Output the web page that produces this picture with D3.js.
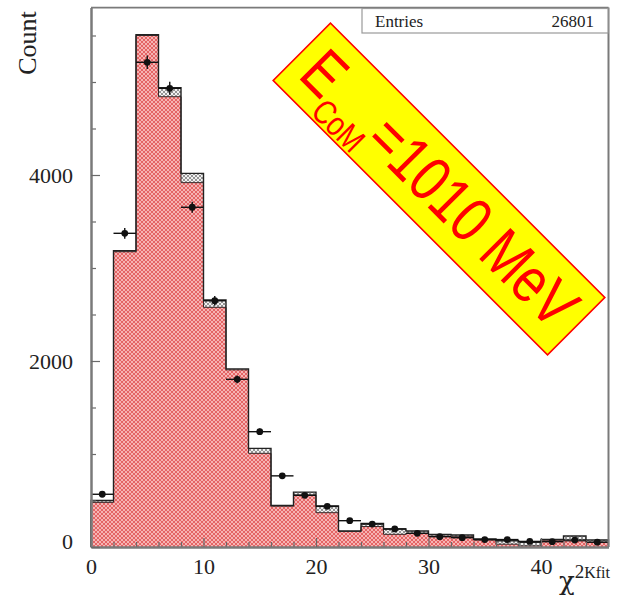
<!DOCTYPE html>
<html>
<head>
<meta charset="utf-8">
<script src="https://cdn.jsdelivr.net/npm/d3@7"></script>
<style>
  html, body { margin: 0; padding: 0; background: #fff; }
  svg { display: block; }
</style>
</head>
<body>
<svg id="chart" width="620" height="602"></svg>
<script>
// χ² of the kinematic fit, 2-unit bins from 0 to 46
const binEdges = [0, 2, 4, 6, 8, 10, 12, 14, 16, 18, 20, 22, 24, 26, 28, 30, 32, 34, 36, 38, 40, 42, 44, 46];

// Simulated signal (red hatched) counts per bin
const signalCounts = [480, 3175, 5500, 4842, 3918, 2577, 1905, 1007, 440, 559, 369, 168, 220, 136, 147, 118, 111, 75, 30, 12, 72, 65, 50];

// Simulated background stacked on top of the signal (grey hatched)
const backgroundCounts = [20, 10, 8, 97, 100, 79, 10, 54, 6, 31, 72, 4, 34, 58, 25, 18, 18, 11, 38, 38, 10, 53, 25];

// Measured data points and their statistical errors
const dataCounts = [567, 3373, 5212, 4932, 3653, 2648, 1803, 1240, 765, 556, 437, 283, 246, 194, 147, 111, 100, 80, 80, 60, 57, 75, 52];
const dataErrors = [24, 58, 72, 70, 60, 51, 42, 35, 28, 24, 21, 17, 16, 14, 12, 11, 10, 9, 9, 8, 8, 9, 7];

// Axis ticks
const xMajorTicks = [0, 10, 20, 30, 40];
const xMinorTicks = [2, 4, 6, 8, 12, 14, 16, 18, 22, 24, 26, 28, 32, 34, 36, 38, 42, 44];
const yMajorTicks = [0, 2000, 4000];
const yMinorTicks = [500, 1000, 1500, 2500, 3000, 3500, 4500, 5000, 5500];

const entriesLabel = "Entries";
const entriesValue = "26801";

const svg = d3.select("#chart");

const x = d3.scaleLinear().domain([0, 46]).range([91, 608.5]);
const y = d3.scaleLinear().domain([0, 5800]).range([547, 7.6]);

// Hatch patterns
const defs = svg.append("defs");
const red = defs.append("pattern")
  .attr("id", "redHatch").attr("patternUnits", "userSpaceOnUse")
  .attr("width", 4).attr("height", 4);
red.append("rect").attr("width", 4).attr("height", 4).attr("fill", "#f6b4b4");
red.append("path").attr("d", "M0,4 L4,0 M-1,1 L1,-1 M3,5 L5,3")
  .attr("stroke", "#e25c5c").attr("stroke-width", 0.9);
red.append("path").attr("d", "M0,0 L4,4 M-1,3 L1,5 M3,-1 L5,1")
  .attr("stroke", "#e25c5c").attr("stroke-width", 0.9);

const grey = defs.append("pattern")
  .attr("id", "greyHatch").attr("patternUnits", "userSpaceOnUse")
  .attr("width", 4).attr("height", 4);
grey.append("rect").attr("width", 4).attr("height", 4).attr("fill", "#f2f2f2");
grey.append("path").attr("d", "M0,4 L4,0 M0,0 L4,4")
  .attr("stroke", "#8a8a8a").attr("stroke-width", 0.9);

const bins = signalCounts.map((s, i) => ({
  lo: binEdges[i], hi: binEdges[i + 1],
  sig: s, tot: s + backgroundCounts[i],
  data: dataCounts[i], err: dataErrors[i]
}));

const plot = svg.append("g");

// Step outline of a stacked layer, as a path over all bins
function stepLine(key) {
  const p = d3.path();
  p.moveTo(x(bins[0].lo), y(0));
  bins.forEach(d => { p.lineTo(x(d.lo), y(d[key])); p.lineTo(x(d.hi), y(d[key])); });
  p.lineTo(x(bins[bins.length - 1].hi), y(0));
  return p.toString();
}

// Background layer: one closed band between signal and total tops
function bandPath() {
  const p = d3.path();
  bins.forEach(d => {
    if (d.tot <= d.sig) return;
    p.rect(x(d.lo), y(d.tot), x(d.hi) - x(d.lo), y(d.sig) - y(d.tot));
  });
  return p.toString();
}
plot.append("path").attr("d", bandPath()).attr("fill", "url(#greyHatch)");

// Signal layer drawn as a single filled step area
plot.append("path").attr("d", stepLine("sig") + "Z").attr("fill", "url(#redHatch)");

plot.append("path").attr("d", stepLine("sig"))
  .attr("fill", "none").attr("stroke", "#3a2a2a").attr("stroke-width", 1);
plot.append("path").attr("d", stepLine("tot"))
  .attr("fill", "none").attr("stroke", "#222").attr("stroke-width", 1.4);

// Data points with error bars
const pts = plot.selectAll("g.pt").data(bins).join("g").attr("class", "pt");
pts.append("line")
  .attr("x1", d => x(d.lo)).attr("x2", d => x(d.hi))
  .attr("y1", d => y(d.data)).attr("y2", d => y(d.data))
  .attr("stroke", "#111").attr("stroke-width", 1.4);
pts.append("line")
  .attr("x1", d => x((d.lo + d.hi) / 2)).attr("x2", d => x((d.lo + d.hi) / 2))
  .attr("y1", d => y(d.data - d.err)).attr("y2", d => y(d.data + d.err))
  .attr("stroke", "#111").attr("stroke-width", 1.4);
pts.append("circle")
  .attr("cx", d => x((d.lo + d.hi) / 2)).attr("cy", d => y(d.data))
  .attr("r", 3.4).attr("fill", "#111");

// Frame
const frame = svg.append("g").attr("stroke", "#7a7a7a").attr("fill", "none");
frame.append("line").attr("x1", x(0)).attr("x2", x(46)).attr("y1", y(5800)).attr("y2", y(5800)).attr("stroke-width", 1.6);
frame.append("line").attr("x1", x(46)).attr("x2", x(46)).attr("y1", y(5800)).attr("y2", y(0)).attr("stroke-width", 2);

// Axes
function styleAxis(g) {
  g.selectAll(".domain").attr("stroke", "#7a7a7a").attr("stroke-width", 2);
  g.selectAll(".tick line").attr("stroke", "#6a6a6a").attr("stroke-width", 1.2);
  g.selectAll(".tick text")
    .attr("fill", "#222")
    .style("font-family", "'Liberation Serif', 'DejaVu Serif', serif")
    .style("font-size", "22px");
}

svg.append("g").attr("transform", `translate(0,${y(0)})`)
  .call(d3.axisBottom(x).tickValues(xMinorTicks).tickSize(-5).tickSizeOuter(0).tickFormat(""))
  .call(styleAxis);
svg.append("g").attr("transform", `translate(0,${y(0)})`)
  .call(d3.axisBottom(x).tickValues(xMajorTicks).tickSize(-9).tickSizeOuter(0).tickPadding(11).tickFormat(d3.format("d")))
  .call(styleAxis);

svg.append("g").attr("transform", `translate(${x(0)},0)`)
  .call(d3.axisLeft(y).tickValues(yMinorTicks).tickSize(-5).tickSizeOuter(0).tickFormat(""))
  .call(styleAxis);
const yAx = svg.append("g").attr("transform", `translate(${x(0)},0)`)
  .call(d3.axisLeft(y).tickValues(yMajorTicks).tickSize(-9).tickSizeOuter(0).tickPadding(18).tickFormat(d3.format("d")))
  .call(styleAxis);
yAx.selectAll(".tick text").filter(d => d === 0).attr("dy", "0.05em");

// Axis titles
svg.append("text")
  .attr("transform", "translate(36,43) rotate(-90)")
  .attr("text-anchor", "middle")
  .attr("fill", "#222")
  .style("font-family", "'Liberation Serif', 'DejaVu Serif', serif")
  .style("font-size", "26px")
  .text("Count");

const xt = svg.append("text")
  .attr("x", 610).attr("y", 590)
  .attr("text-anchor", "end")
  .attr("fill", "#222")
  .style("font-family", "'DejaVu Serif', 'Liberation Serif', serif");
xt.append("tspan").style("font-size", "26px").text("χ");
xt.append("tspan").style("font-family", "'Liberation Serif', serif").style("font-size", "19px").attr("dy", -12).text("2");
xt.append("tspan").style("font-family", "'Liberation Serif', serif").style("font-size", "16px").text("Kfit");

// Statistics box
const stats = svg.append("g");
stats.append("rect").attr("x", 362).attr("y", 8.5).attr("width", 246).attr("height", 24.5)
  .attr("fill", "#fff").attr("stroke", "#9a9a9a").attr("stroke-width", 1.2);
stats.append("text").attr("x", 375).attr("y", 27)
  .attr("fill", "#222")
  .style("font-family", "'Liberation Serif', 'DejaVu Serif', serif").style("font-size", "17px")
  .text(entriesLabel);
stats.append("text").attr("x", 594).attr("y", 27).attr("text-anchor", "end")
  .attr("fill", "#222")
  .style("font-family", "'Liberation Serif', 'DejaVu Serif', serif").style("font-size", "17px")
  .text(entriesValue);

// Beam energy label on a rotated yellow banner
const banner = svg.append("g").attr("transform", "translate(439,189) rotate(45)");
banner.append("rect").attr("x", -194).attr("y", -40.5).attr("width", 388).attr("height", 81)
  .attr("fill", "#ffff00").attr("stroke", "#ff0000").attr("stroke-width", 1.6);
const bannerText = banner.append("g");
const bt = bannerText.append("text")
  .attr("x", 0).attr("y", 21)
  .attr("fill", "#ff0000")
  .style("font-family", "'Liberation Sans', Arial, sans-serif");
bt.append("tspan").style("font-size", "64px").text("E");
bt.append("tspan").style("font-size", "34px").attr("dy", 17).text("CoM");
bt.append("tspan").style("font-size", "64px").attr("dy", -17).text("=1010 MeV");
const bb = bt.node().getBBox();
const targetLen = 361;
const sx = targetLen / bb.width;
bannerText.attr("transform", `translate(${-180 - bb.x * sx},0) scale(${sx},1)`);
</script>
</body>
</html>
